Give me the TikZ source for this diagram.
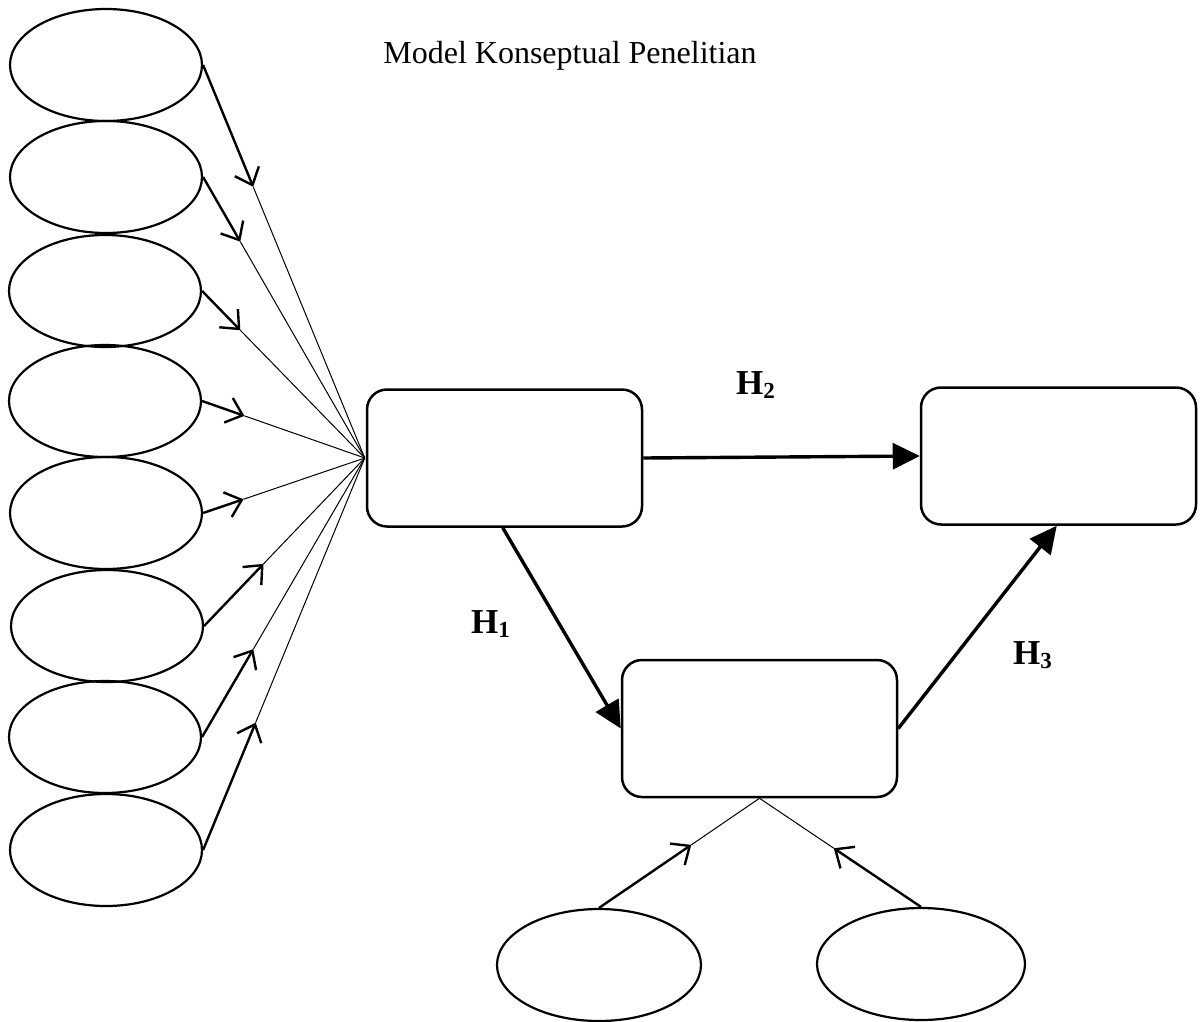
\documentclass[tikz,border=0pt]{standalone}
\usepackage{fontspec}
\setmainfont{Liberation Serif}
\usetikzlibrary{shapes.geometric,arrows.meta,calc}
\begin{document}
\begin{tikzpicture}[x=1pt,y=-1pt,
 oval/.style={draw,ellipse,line width=2.2pt,minimum width=192pt,minimum height=112pt,inner sep=0pt},
 rbox/.style={draw,rounded corners=20pt,line width=2.5pt,minimum width=275pt,minimum height=137pt,inner sep=0pt},
 thickpart/.style={line width=2.4pt,-{Straight Barb[length=15pt,width=26pt]}},
 thinpart/.style={line width=1pt},
 mainarrow/.style={line width=3.4pt,-{Triangle[length=27pt,width=26pt]}},
 hlabel/.style={font=\fontsize{35}{35}\selectfont\bfseries, anchor=base west, inner sep=0pt}
]
\useasboundingbox (0,0) rectangle (1200,1021);

% title
\node[anchor=base, inner sep=0pt, font=\fontsize{32}{32}\selectfont] (title) at (570,63) {Model Konseptual Penelitian};

% left ellipses
\node[oval] (e1) at (106,65) {};
\node[oval] (e2) at (106,177) {};
\node[oval] (e3) at (105,291) {};
\node[oval] (e4) at (105,401) {};
\node[oval] (e5) at (106,513) {};
\node[oval] (e6) at (107,626) {};
\node[oval] (e7) at (105,737) {};
\node[oval] (e8) at (106,850) {};

% boxes
\node[rbox] (b1) at (504.5,458) {};
\node[rbox] (b2) at (1058.5,456) {};
\node[rbox] (b3) at (759.5,728.5) {};

% bottom ellipses
\node[oval,minimum width=204pt] (f1) at (599,965) {};
\node[oval,minimum width=208pt] (f2) at (921,964) {};

% convergence points
\coordinate (conv) at ([xshift=-1pt]b1.west);
\coordinate (conv2) at (b3.south);

% left connectors
\foreach \i/\f in {1/0.31,2/0.23,3/0.235,4/0.26,5/0.25,6/0.37,7/0.315,8/0.325}{
  \coordinate (t\i) at ($(e\i.east)!\f!(conv)$);
  \draw[thickpart] (e\i.east) -- (t\i);
  \draw[thinpart] (t\i) -- (conv);
}

% bottom connectors
\coordinate (u1) at ($(f1.north)!0.575!(conv2)$);
\coordinate (u2) at ($(f2.north)!0.54!(conv2)$);
\draw[thickpart] (f1.north) -- (u1);
\draw[thinpart] (u1) -- (conv2);
\draw[thickpart] (f2.north) -- (u2);
\draw[thinpart] (u2) -- (conv2);

% main arrows
\draw[mainarrow] (b1.east) -- (b2.west);
\draw[mainarrow] ([xshift=137pt]b1.south west) -- (b3.west);
\draw[mainarrow] (b3.east) -- ([xshift=137pt]b2.south west);

% labels
\node[hlabel] (h2) at (736,394) {H\raisebox{-4pt}{\fontsize{23}{23}\selectfont 2}};
\node[hlabel] (h1) at (471,633) {H\raisebox{-4pt}{\fontsize{23}{23}\selectfont 1}};
\node[hlabel] (h3) at (1013,664) {H\raisebox{-4pt}{\fontsize{23}{23}\selectfont 3}};
\end{tikzpicture}
\end{document}
